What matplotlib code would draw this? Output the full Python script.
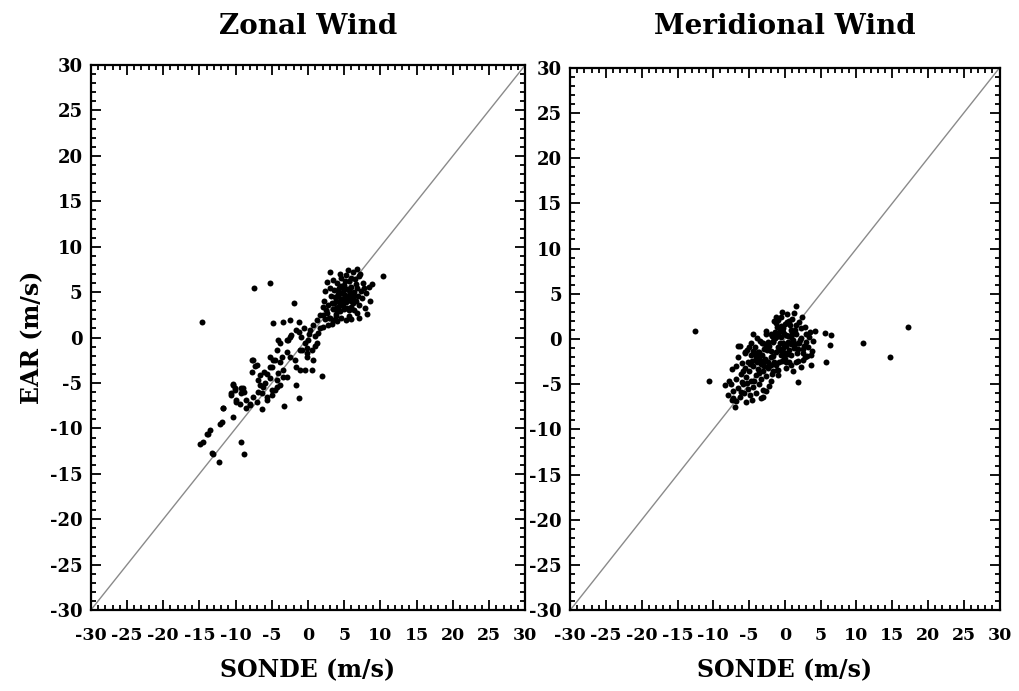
import matplotlib.pyplot as plt
import numpy as np

# Datos (m/s)
zonal_sonde = [
    2.0, 2.5, 2.2, 2.8, 3.0, 3.2, 3.4, 3.6, 3.8, 3.9, 4.0, 4.1, 4.2, 4.3, 4.4, 4.5, 4.6, 4.7, 4.8, 4.9,
    5.0, 5.0, 5.1, 5.2, 5.3, 5.4, 5.5, 5.6, 5.7, 5.8, 5.9, 6.0, 6.1, 6.2, 6.3, 6.4, 6.5, 6.6, 6.7, 6.8,
    6.9, 7.0, 7.1, 7.3, 7.4, 7.6, 7.8, 8.0, 8.2, 8.4, 3.5, 3.0, 2.6, 4.4, 5.5, 6.8, 7.2, 4.0, 5.2, 6.0,
    3.3, 4.6, 5.6, 4.3, 5.0, 4.7, 5.3, 5.9, 4.1, 5.7, 6.3, 4.6, 5.1, 3.7, 6.0, 7.7, 8.6, 7.0, 3.1, 2.3,
    4.8, 5.4, 6.2, 4.2, 3.6, 5.8, 6.6, 4.9, 5.6, 3.9,
    -14.6, -7.5, -5.3, 10.3, 8.9, -1.9, -4.8, -3.4, -2.5, -1.3, 1.9, -1.6, -1.2, -3.3, -6.4, -11.8, -12.2, -10.3, -13.8, -13.5,
    -14.9, -14.5, -13.3, -12.3, -9.2, -8.9, -7.8, -7.3, -10.3, -10.1, -10.6, -9.2, -8.9, -9.9, -8.5, -8.0, -7.1, -6.4, -5.7, -5.0,
    -4.3, -5.9, -6.6, -6.1, -5.3, -4.8, -5.3, -4.3, -3.9, -4.1, -2.9, -2.5, -3.9, -3.4, -2.9, -2.5, -1.8, -1.6, -1.1, -0.9,
    -0.4, 0.0, -0.2, -1.3, -0.6, 0.3, 0.7, 1.2, 1.7, 2.6, 2.1, -0.2, 0.5, 1.2, 0.7, 1.4, 2.1, 2.8, 3.5, 4.0,
    3.3, -0.4, 0.5, -7.6, -7.1, -7.8, -10.3, -10.1, -10.6, -9.0, -9.2, -11.7, -11.9, -14.0, -13.1, -8.5, -8.0, -7.6, -6.9, -6.2,
    -5.7, -5.0, -4.6, -3.9, -4.3, -5.0, -4.6, -3.6, -2.9, -4.1, -3.4, -2.7, -2.3, -1.6, -1.1, -0.2, -6.6, -6.9, -9.9, -9.4,
    -5.7, -5.3, 1.0, 0.2, 1.6, 2.4, -1.0, 0.9, 2.9, 3.8,
]
zonal_ear = [
    2.5, 3.0, 4.0, 3.6, 2.2, 4.6, 3.1, 5.2, 2.6, 4.0, 6.0, 3.4, 4.8, 5.5, 2.9, 4.2, 6.6, 3.7, 5.0, 4.4,
    3.1, 5.8, 4.7, 6.9, 3.9, 5.3, 4.1, 2.4, 6.2, 4.8, 3.4, 5.6, 4.3, 7.2, 3.0, 5.0, 6.4, 4.0, 2.7, 5.4,
    4.6, 6.8, 3.6, 5.1, 4.3, 6.0, 3.2, 4.9, 2.6, 5.6, 6.3, 5.5, 6.1, 7.0, 7.4, 7.5, 7.0, 1.8, 1.9, 2.0,
    1.5, 2.2, 3.0, 3.9, 4.0, 4.9, 4.5, 4.0, 5.2, 5.2, 4.6, 5.7, 6.2, 4.5, 6.5, 5.4, 4.0, 2.2, 7.2, 5.1,
    3.5, 3.3, 3.8, 4.6, 3.8, 5.0, 5.9, 5.5, 4.4, 3.2,
    1.7, 5.4, 6.0, 6.8, 5.9, 3.8, 1.6, 1.7, 1.9, 1.7, -4.2, -5.2, -6.6, -7.5, -7.9, -7.7, -9.5, -8.7, -10.6, -10.2,
    -11.7, -11.5, -12.7, -13.7, -11.5, -12.8, -2.5, -3.1, -5.2, -5.8, -6.1, -5.6, -6.0, -7.1, -6.9, -7.4, -7.1, -6.1, -6.5, -5.8,
    -5.4, -5.0, -4.1, -3.8, -3.2, -2.5, -2.1, -1.4, -0.6, -0.3, -0.3, 0.1, -2.7, -3.6, -4.3, -2.1, -2.5, -3.2, -3.6, -1.4,
    -0.6, -0.3, -2.1, 0.6, 1.0, 0.8, 1.4, 1.9, 2.5, 2.7, 3.4, -1.2, -1.4, -0.6, -2.5, 0.5, 1.2, 1.4, 1.9, 3.0,
    3.8, -3.6, -3.6, -2.5, -3.0, -3.8, -5.1, -5.6, -6.3, -5.6, -6.1, -7.8, -9.3, -10.6, -12.8, -7.8, -7.3, -6.5, -6.0, -5.4,
    -6.9, -6.3, -5.8, -5.2, -4.7, -3.2, -2.5, -2.1, -1.6, -3.9, -4.3, -0.3, 0.3, 0.8, -1.4, -1.7, -5.2, -4.7, -6.9, -7.3,
    -4.0, -4.5, 0.2, 0.4, 1.1, 2.0, 0.1, -0.9, 2.2, 2.4,
]

merid_sonde = [
    -12.6, 17.2, 10.9, 14.7, 1.6, 5.6, 6.4, 6.3, 5.8, 3.7, 1.9, -3.0, -10.6, -8.4, -7.4, -7.0, -6.3,
    -1.5, -0.5, 0.3, 1.0, 2.0, 2.8, 3.5, 3.9, 3.2, 2.5, 1.8, 0.9, 0.1, -0.8, -1.6, -2.2, -2.0, -1.1, 0.0, 0.8,
    1.6, 2.3, 1.4, 0.6, -0.3, -1.0, -0.6, 0.4, 1.1, -0.2, 0.2, 0.9, 1.9, 2.9, 2.2, -0.9, -1.7, -0.4, 0.6, 1.5,
    3.0, 2.6, 0.0, -1.3, 1.2, -0.1, 0.5, 1.7, -0.7, -1.4, 3.6, 2.4, 1.3, -0.4, 4.2, 0.8, -0.2, 1.0, -1.2, 2.0,
    -2.5, -3.0, -3.6, -4.2, -2.8, -3.4, -4.0, -4.7, -5.2, -2.3, -3.0, -3.8, -4.5, -5.0, -5.6, -6.0, -2.6, -3.3, -4.1, -4.8,
    -5.5, -6.2, -6.8, -3.6, -4.4, -5.1, -5.8, -6.5, -7.2, -4.0, -4.9, -5.7, -6.3, -6.9, -2.0, -1.7, -2.2, -3.1, -3.9, -4.6,
    -5.3, -2.0, -1.5, -3.5, -2.7, -4.8, -5.6, -6.6, -7.4, -7.8, -6.0, -5.3, -4.3, -3.6, -2.9, -2.4, -1.9, -3.2, -4.4, -5.8,
    -6.9, -7.5, -6.2, -3.4, -2.6, -8.0, -7.2, -4.6, -5.5, -1.0,
    -0.5, -1.8, -2.3, 0.3, -0.9, 1.4, 2.7, 3.3, 0.7, -1.3, -1.2, -0.3, 0.1, -2.6, -1.9, 1.3, 0.3, -0.7, 2.1, -3.7,
    -4.5, -3.9, -3.2, -2.6, -5.0, -4.2, -3.5, -2.9, -1.6, -0.8, -0.1, 0.6, 1.8, 2.5, 3.1, -2.1, -1.4, -0.6, 0.2, 1.0,
    -3.8, -3.0, -2.4, -1.8, -1.1, -0.4, 0.4, 1.5, 2.2, -6.5, -5.6, -4.9, -4.1, -1.3, -0.2, 0.9, 3.8, 2.8, -0.9, -2.7,
]
merid_ear = [
    0.9, 1.3, -0.5, -2.0, 3.6, 0.7, 0.4, -0.7, -2.6, -2.9, -4.8, -6.4, -4.7, -5.1, -6.8, -7.5, -0.8,
    2.0, 2.4, 2.8, 2.2, 1.9, 1.3, 0.8, -0.2, -0.9, -1.6, -2.4, -2.9, -3.2, -2.6, -1.9, -0.8, 0.6, 1.3, 1.6, 1.0,
    0.6, 0.1, -0.6, -1.2, -1.5, -0.9, 0.2, 0.3, -0.1, -0.4, -0.8, -1.8, -1.1, 0.5, 1.2, 0.7, -0.2, 1.0, 2.0, 1.5,
    -0.3, -2.3, -2.2, -2.9, -3.5, 0.6, -0.3, -1.6, -0.5, 0.1, -1.8, 2.4, 2.9, 3.0, 0.9, -0.6, -1.0, 0.5, -1.5, -0.5,
    -1.2, -0.5, -1.4, -0.9, -2.2, -2.8, -2.1, -1.8, -2.5, -3.1, -3.6, -3.3, -3.0, -3.6, -3.2, -2.7, -4.1, -4.4, -4.0, -4.6,
    -4.2, -3.9, -4.4, -5.0, -5.3, -5.5, -5.0, -5.4, -5.8, -6.0, -6.2, -6.0, -6.4, -6.9, -4.6, -3.6, -5.2, -5.7, -2.6, -2.4,
    -1.2, -2.0, -2.6, -0.2, 0.5, -0.5, -1.6, -2.0, -3.3, -4.6, -4.8, -4.9, -4.7, -3.8, -3.0, -2.6, -1.3, -1.8, -1.3, -3.6,
    -3.0, -5.0, -5.9, -6.5, -5.8, -6.2, -6.5, -6.8, -7.0, -4.0,
    -1.8, 0.3, -0.3, -1.6, -3.4, 1.0, -0.8, 0.2, 1.5, 2.4, 0.2, 0.8, -2.5, -0.9, -2.9, -1.0, 1.9, 1.1, -0.1, -2.0,
    0.6, 0.1, -0.4, 0.9, -0.9, -1.7, -2.3, -1.1, -0.3, -1.2, -2.0, -2.6, -0.4, -1.1, -1.9, -2.9, 0.8, 1.4, 0.4, -0.3,
    -1.5, -2.6, -3.2, -3.9, -3.4, -2.4, -1.7, -2.5, -3.1, -0.8, -1.5, -2.8, -1.6, 1.8, 1.2, 0.2, -1.3, -2.0, 2.1, -0.7,
]

plt.rcParams['font.family'] = 'DejaVu Serif'
plt.rcParams['font.weight'] = 'bold'
plt.rcParams['axes.unicode_minus'] = False

fig = plt.figure(figsize=(10.2, 6.91), dpi=100)
ax1 = fig.add_axes([0.089, 0.117, 0.426, 0.789])
ax2 = fig.add_axes([0.559, 0.117, 0.421, 0.785])

paneles = [(ax1, zonal_sonde, zonal_ear, 'Zonal Wind'),
           (ax2, merid_sonde, merid_ear, 'Meridional Wind')]

ticks = np.arange(-30, 31, 5)
for ax, xs, ys, titulo in paneles:
    ax.plot([-30, 30], [-30, 30], color='#8a8a8a', lw=1.0, zorder=1)
    ax.plot(xs, ys, 'o', color='black', ms=4.3, mew=0, zorder=2)
    ax.set_xlim(-30, 30)
    ax.set_ylim(-30, 30)
    ax.set_xticks(ticks)
    ax.set_yticks(ticks)
    ax.set_xticks(np.arange(-30, 31, 1), minor=True)
    ax.set_yticks(np.arange(-30, 31, 1), minor=True)
    ax.tick_params(which='both', direction='in', top=True, right=True, width=1.3)
    ax.tick_params(which='major', length=7, labelsize=13, pad=6)
    ax.tick_params(axis='x', which='major', labelsize=12.5, pad=12)
    ax.tick_params(which='minor', length=3.5)
    for s in ax.spines.values():
        s.set_linewidth(1.6)
    ax.set_xlabel('SONDE (m/s)', fontsize=17, fontweight='bold', labelpad=10)

ax1.set_title('Zonal Wind', fontsize=20, fontweight='bold', pad=22)
ax2.set_title('Meridional Wind', fontsize=20, fontweight='bold', pad=24)
ax1.set_ylabel('EAR (m/s)', fontsize=17, fontweight='bold', labelpad=4)

fig.savefig('out.png', dpi=100)
